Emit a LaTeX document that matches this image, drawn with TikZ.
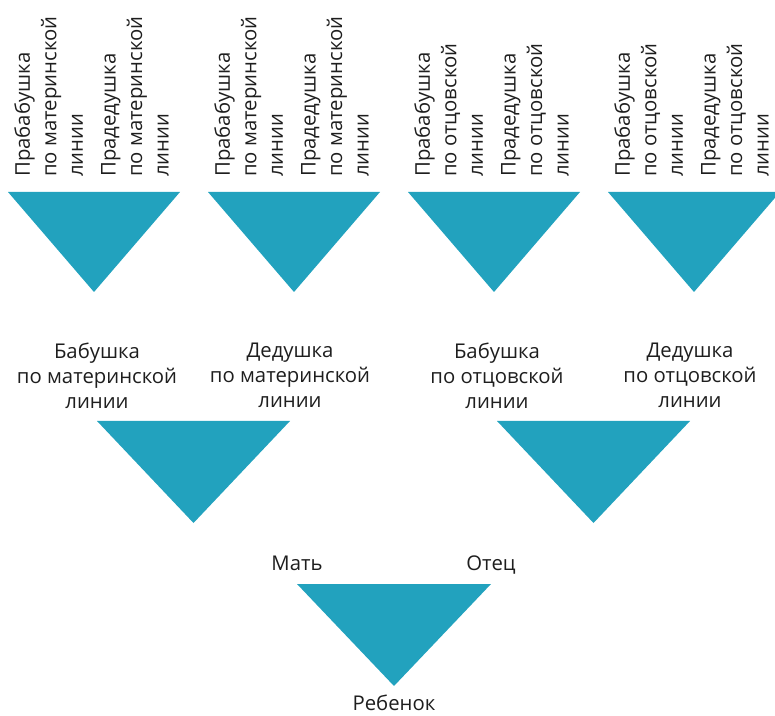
\documentclass[tikz,border=0pt]{standalone}
\usepackage{fontspec}
\setmainfont{Open Sans}
\usetikzlibrary{positioning}
\definecolor{treeteal}{HTML}{22A2BE}
\definecolor{inkgray}{HTML}{1E1E1E}

\begin{document}
\begin{tikzpicture}[x=1pt,y=1pt,
    wedge/.style={fill=treeteal},
    kin/.style={font=\fontsize{20.3}{25}\selectfont,text=inkgray,inner sep=0pt,align=center},
    anc/.style={font=\fontsize{20.3}{26.5}\selectfont,text=inkgray,inner sep=0pt,align=left,rotate=90,anchor=north west}]
    \useasboundingbox (0,0) rectangle (775,715);
    \clip (0,0) rectangle (775,715);
    \foreach \i/\side in {0/материнской,1/материнской,2/отцовской,3/отцовской} {
        \coordinate (gl\i) at (8+200*\i,523);
        \coordinate (gr\i) at (180+200*\i,523);
        \coordinate (ga\i) at (94+200*\i,423);
        \fill[wedge] (gl\i) -- (gr\i) -- (ga\i) -- cycle;
        \node[anc] (pb\i) at (14+200*\i,538) {Прабабушка\\по \side\\линии};
        \node[anc] (pd\i) at (101+200*\i,538) {Прадедушка\\по \side\\линии};
    }
    \coordinate (ml0) at (97,294);
    \coordinate (mr0) at (290,294);
    \coordinate (ma0) at (193.5,192);
    \coordinate (ml1) at (497,294);
    \coordinate (mr1) at (690,294);
    \coordinate (ma1) at (593.5,192);
    \fill[wedge] (ml0) -- (mr0) -- (ma0) -- cycle;
    \fill[wedge] (ml1) -- (mr1) -- (ma1) -- cycle;
    \node[kin,anchor=north] (bm) at (97,372) {Бабушка\\по материнской\\линии};
    \node[kin,anchor=north] (dm) at (290,372) {Дедушка\\по материнской\\линии};
    \node[kin,anchor=north] (bo) at (497,372) {Бабушка\\по отцовской\\линии};
    \node[kin,anchor=north] (do) at (690,372) {Дедушка\\по отцовской\\линии};
    \coordinate (cl) at (297,131);
    \coordinate (cr) at (491,131);
    \coordinate (ca) at (394,29);
    \fill[wedge] (cl) -- (cr) -- (ca) -- cycle;
    \node[kin,anchor=base] (mat) at (297,145) {Мать};
    \node[kin,anchor=base] (ot) at (491,145) {Отец};
    \node[kin,anchor=base] (reb) at (394,5) {Ребенок};
\end{tikzpicture}
\end{document}
